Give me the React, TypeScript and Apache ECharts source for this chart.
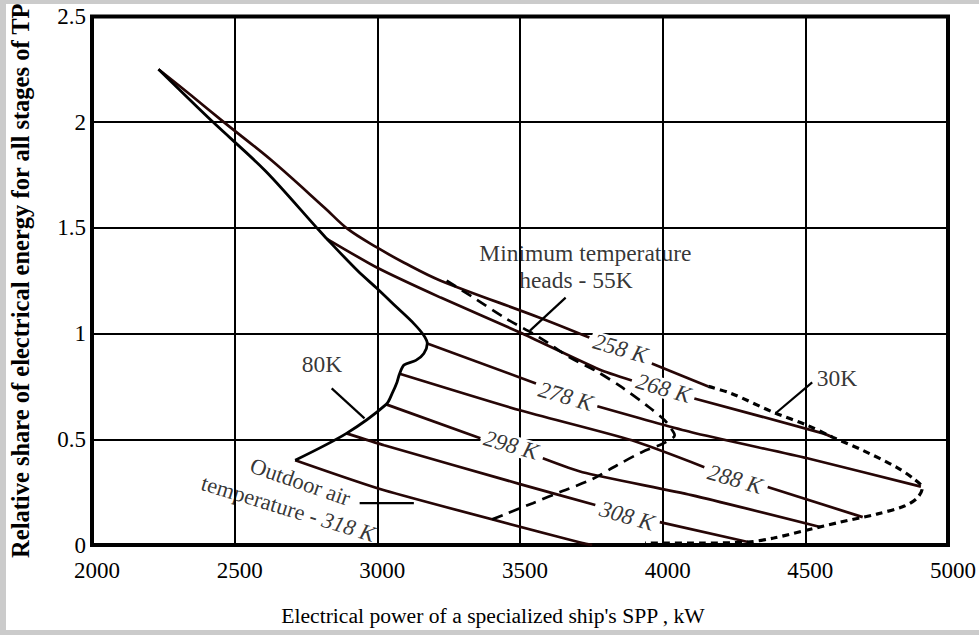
import React, { useEffect, useRef } from "react";
import * as echarts from "echarts";

const FONT = '"Liberation Serif", "Times New Roman", Times, serif';

// Axis settings
const X_MIN = 2000;
const X_MAX = 5000;
const X_STEP = 500;
const Y_MIN = 0;
const Y_MAX = 2.5;
const Y_STEP = 0.5;
const X_TITLE = "Electrical power of a specialized ship's SPP , kW";
const Y_TITLE = "Relative share of electrical energy for all stages of TP";

// GAP marks where a line is interrupted by its label
const GAP = null;

// Left boundary (temperature head 80K)
const boundary80K: number[][] = [
  [2233, 2.25], [2424, 2.0], [2608, 1.769], [2788, 1.5], [2823, 1.448],
  [2931, 1.297], [3000, 1.212], [3069, 1.123], [3128, 1.047],
  [3163, 0.991], [3175, 0.953], [3163, 0.906], [3135, 0.873], [3094, 0.852],
  [3078, 0.81], [3069, 0.77], [3052, 0.717], [3031, 0.665], [2892, 0.528],
  [2712, 0.401],
];

// Outdoor air temperature lines
const line258K: any[] = [
  [2233, 2.25], [2347, 2.127], [2462, 2.0], [2632, 1.816], [2816, 1.594],
  [2896, 1.495], [3000, 1.406], [3094, 1.335], [3222, 1.25], [3569, 1.075],
  [3743, 0.981], GAP, [3962, 0.858], [4160, 0.75],
];
const line268K: any[] = [
  [2823, 1.448], [3000, 1.311], [3222, 1.17], [3500, 1.005], [3778, 0.83],
  [3892, 0.778], GAP, [4111, 0.693], [4562, 0.528], [4597, 0.509],
];
const line278K: any[] = [
  [3175, 0.953], [3556, 0.764], GAP, [3771, 0.656], [4101, 0.533], [4507, 0.41],
  [4905, 0.276],
];
const line288K: any[] = [
  [3078, 0.81], [3500, 0.637], [3892, 0.495], [4146, 0.368], GAP, [4368, 0.274],
  [4701, 0.132],
];
const line298K: any[] = [
  [3031, 0.665], [3361, 0.505], GAP, [3580, 0.41], [3719, 0.344], [4101, 0.236],
  [4552, 0.085],
];
const line308K: any[] = [
  [2892, 0.528], [3024, 0.472], [3500, 0.288], [3764, 0.189], GAP, [3990, 0.108],
  [4299, 0.014],
];
const line318K: any[] = [
  [2712, 0.401], [3024, 0.259], [3719, 0.009], [3753, 0],
];

// Minimum temperature heads - 55K (dashed)
const heads55K: number[][] = [
  [3243, 1.25], [3337, 1.17], [3451, 1.071], [3569, 0.981], [3674, 0.887],
  [3764, 0.825], [3858, 0.745], [3944, 0.66], [4007, 0.59], [4038, 0.533],
  [4042, 0.519], [4003, 0.481], [3927, 0.439], [3840, 0.377], [3753, 0.311],
  [3649, 0.255], [3545, 0.198], [3441, 0.142], [3396, 0.118],
];

// Right boundary 30K (dashed)
const heads30K: number[][] = [
  [4160, 0.75], [4240, 0.717], [4389, 0.627], [4507, 0.566], [4597, 0.509],
  [4701, 0.448], [4819, 0.368], [4882, 0.311], [4910, 0.269], [4892, 0.222],
  [4847, 0.184], [4750, 0.146], [4622, 0.108], [4507, 0.071], [4389, 0.033],
  [4299, 0.014], [4135, 0.009], [3938, 0.009],
];

// Leader lines of annotations
const leader80K: number[][] = [[2840, 0.741], [2955, 0.599]];
const leader55K: number[][] = [[3660, 1.17], [3535, 1.014]];
const leader30K: number[][] = [[4524, 0.769], [4396, 0.623]];
const leader318K: number[][] = [[2938, 0.198], [3128, 0.198]];

// Temperature label texts and anchors
const tempLabelTexts = ["258 K", "268 K", "278 K", "288 K", "298 K", "308 K"];
const tempLabelAnchors: number[][] = [
  [3852, 0.929], [4003, 0.741], [3660, 0.703], [4254, 0.311], [3469, 0.472], [3875, 0.137],
];
const TEMP_ROTATE = -16;

// Other annotations
const noteTexts = ["80K", "30K", "Minimum temperature", "heads - 55K"];
const noteAnchors: number[][] = [
  [2806, 0.858], [4611, 0.792], [3729, 1.382], [3696, 1.255],
];
const outdoorTexts = ["Outdoor air", "{n|temperature - }{i|318 K}"];
const outdoorAnchors: number[][] = [[2730, 0.299], [2688, 0.172]];
const outdoorRotate = [-19, -17];

const TEMP_COLOR = "#260606";
const TEMP_FONT_SIZE = 23;

function splitAtGaps(data: any[]): number[][][] {
  const out: number[][][] = [];
  let cur: number[][] = [];
  data.forEach((p) => {
    if (p === GAP) {
      if (cur.length) out.push(cur);
      cur = [];
    } else cur.push(p);
  });
  if (cur.length) out.push(cur);
  return out;
}

function lineSeries(name: string, data: number[][], color: string, width: number, type: any = "solid", smooth: number = 0.25) {
  return {
    name,
    type: "line",
    data,
    smooth,
    showSymbol: false,
    symbol: "none",
    silent: true,
    lineStyle: { color, width, type },
    z: 3,
  };
}

function measure(text: string, font: string): number {
  const c = document.createElement("canvas");
  const ctx = c.getContext("2d");
  if (!ctx) return text.length * 11;
  ctx.font = font;
  return ctx.measureText(text).width;
}

export default function App() {
  const ref = useRef<HTMLDivElement>(null);

  useEffect(() => {
    if (!ref.current) return;
    const chart = echarts.init(ref.current, null, { renderer: "svg" });

    const tempLines = [line258K, line268K, line278K, line288K, line298K, line308K, line318K];
    const tempNames = ["258K", "268K", "278K", "288K", "298K", "308K", "318K"];

    const tempSeries: any[] = [];
    tempLines.forEach((d, i) => {
      splitAtGaps(d).forEach((seg, j) => {
        tempSeries.push(lineSeries(tempNames[i] + "-" + j, seg, TEMP_COLOR, 2.7, "solid", i === 0 ? 0.35 : 0.2));
      });
    });

    const series: any[] = [
      ...tempSeries,
      lineSeries("80K", boundary80K, "#000", 2.8, "solid", 0.3),
      lineSeries("55K", heads55K, "#000", 2.7, [11, 7], 0.3),
      lineSeries("30K", heads30K, "#000", 3.2, [7, 5], 0.3),
      lineSeries("lead80", leader80K, "#000", 2.2, "solid", 0),
      lineSeries("lead55", leader55K, "#000", 2.2, "solid", 0),
      lineSeries("lead30", leader30K, "#000", 2.2, "solid", 0),
      lineSeries("lead318", leader318K, "#000", 2.2, "solid", 0),
      {
        name: "tempLabels",
        type: "scatter",
        silent: true,
        symbolSize: 1,
        itemStyle: { color: "transparent" },
        z: 10,
        label: {
          show: true,
          position: "inside",
          fontFamily: FONT,
          fontSize: TEMP_FONT_SIZE,
          fontStyle: "italic",
          color: "#000",
        },
        data: tempLabelAnchors.map((a, i) => ({
          value: a,
          label: { formatter: tempLabelTexts[i], rotate: TEMP_ROTATE },
        })),
      },
      {
        name: "notes",
        type: "scatter",
        silent: true,
        symbolSize: 1,
        itemStyle: { color: "transparent" },
        z: 10,
        label: {
          show: true,
          position: "inside",
          fontFamily: FONT,
          fontSize: 23.5,
          color: "#000",
        },
        data: noteAnchors.map((a, i) => ({
          value: a,
          label: { formatter: noteTexts[i] },
        })),
      },
      {
        name: "outdoor",
        type: "scatter",
        silent: true,
        symbolSize: 1,
        itemStyle: { color: "transparent" },
        z: 10,
        label: {
          show: true,
          position: "inside",
          fontFamily: FONT,
          fontSize: 22.5,
          color: "#000",
          rich: {
            n: { fontFamily: FONT, fontSize: 22.5, color: "#000" },
            i: { fontFamily: FONT, fontSize: 22.5, fontStyle: "italic", color: "#000" },
          },
        },
        data: outdoorAnchors.map((a, i) => ({
          value: a,
          label: { formatter: outdoorTexts[i], rotate: outdoorRotate[i] },
        })),
      },
    ];

    chart.setOption({
      animation: false,
      backgroundColor: "transparent",
      grid: {
        left: 85,
        top: 14,
        right: 29,
        bottom: 90,
        show: true,
        borderColor: "#000",
        borderWidth: 4,
      },
      xAxis: {
        type: "value",
        min: X_MIN,
        max: X_MAX,
        interval: X_STEP,
        axisLine: { show: false },
        axisTick: { show: false },
        splitLine: { show: true, lineStyle: { color: "#000", width: 2 } },
        axisLabel: {
          fontFamily: FONT,
          fontSize: 23,
          color: "#000",
          margin: 14,
          padding: [0, 0, 0, 10],
          formatter: (v: number) => String(v),
        },
        name: X_TITLE,
        nameLocation: "middle",
        nameGap: 60,
        nameTextStyle: { fontFamily: FONT, fontSize: 21.6, color: "#000", padding: [0, 54, 0, 0] },
      },
      yAxis: {
        type: "value",
        min: Y_MIN,
        max: Y_MAX,
        interval: Y_STEP,
        axisLine: { show: false },
        axisTick: { show: false },
        splitLine: { show: true, lineStyle: { color: "#000", width: 2 } },
        axisLabel: {
          fontFamily: FONT,
          fontSize: 23,
          color: "#000",
          margin: 6,
          formatter: (v: number) => String(v),
        },
        name: Y_TITLE,
        nameLocation: "middle",
        nameRotate: 90,
        nameGap: 59,
        nameTextStyle: { fontFamily: FONT, fontSize: 24.5, fontWeight: "bold", color: "#000" },
      },
      series,
    });

    // White patches behind the temperature labels, so that grid lines are interrupted there
    const rot = (TEMP_ROTATE * Math.PI) / 180;
    const font = `italic ${TEMP_FONT_SIZE}px ${FONT}`;
    const patches = tempLabelAnchors.map((a, i) => {
      const p = chart.convertToPixel({ xAxisIndex: 0, yAxisIndex: 0 }, a) as number[];
      const w = measure(tempLabelTexts[i], font) + 6;
      const h = 20;
      return {
        type: "rect",
        x: p[0],
        y: p[1],
        rotation: rot,
        silent: true,
        z: 5,
        shape: { x: -w / 2, y: -h / 2, width: w, height: h },
        style: { fill: "#fff" },
      };
    });
    chart.setOption({ graphic: patches });

    return () => chart.dispose();
  }, []);

  return (
    <div
      ref={ref}
      style={{
        position: "absolute",
        left: 0,
        top: 0,
        width: 979,
        height: 635,
        background:
          "linear-gradient(#fff, #fff) 6px 4px / 973px 626px no-repeat, #cbcbcb",
      }}
    />
  );
}
